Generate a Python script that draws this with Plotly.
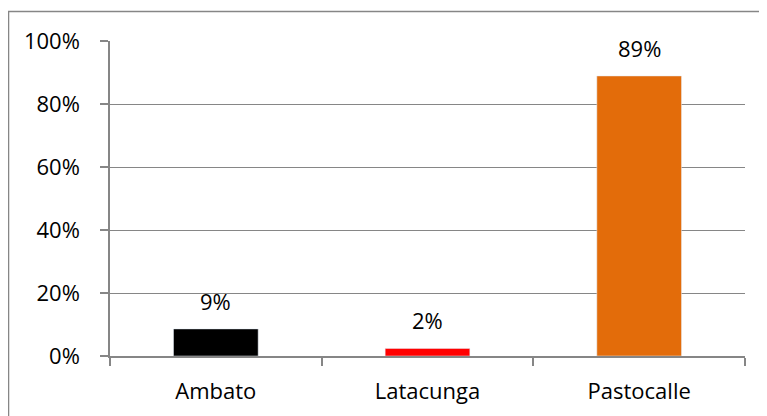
import plotly.graph_objects as go

categories = ["Ambato", "Latacunga", "Pastocalle"]
shares = [0.086, 0.024, 0.889]
bar_colors = ["#000000", "#ff0000", "#e36c0a"]
y_ticks = [0, 0.2, 0.4, 0.6, 0.8, 1.0]
y_tick_labels = ["0%", "20%", "40%", "60%", "80%", "100%"]

grid_col = "#868686"
font = dict(family="Open Sans, Liberation Sans, sans-serif", size=22, color="#000000")

fig = go.Figure(go.Bar(
    x=categories, y=shares, marker_color=bar_colors, width=0.4,
    hoverinfo="skip",
))

for c, v in zip(categories, shares):
    fig.add_annotation(x=c, y=v, text=f"{v:.0%}", showarrow=False,
                       yanchor="bottom", yshift=11, font=font)

# outer chart border (the picture is cropped on the right and bottom)
fig.add_shape(type="rect", xref="paper", yref="paper",
              x0=-0.1598, x1=1.2, y0=-0.5, y1=1.0937,
              line=dict(color=grid_col, width=1.5), layer="below")

# the page body adds an 8px offset, so margins are shifted by it
fig.update_layout(
    width=767, height=416,
    margin=dict(l=102, r=30, t=33, b=68),
    paper_bgcolor="white", plot_bgcolor="white",
    font=font, showlegend=False, bargap=0.6,
)
fig.update_xaxes(
    showline=True, linecolor=grid_col, linewidth=1.5,
    ticks="outside", ticklen=8, tickcolor=grid_col, tickwidth=1.5,
    tickson="boundaries", showgrid=False, ticklabelstandoff=15,
)
fig.update_yaxes(
    range=[0, 1.0], tickvals=y_ticks, ticktext=y_tick_labels,
    showgrid=True, gridcolor=grid_col, gridwidth=1.2,
    showline=True, linecolor=grid_col, linewidth=1.5,
    ticks="outside", ticklen=8, tickcolor=grid_col, tickwidth=1.5,
    zeroline=False, ticklabelstandoff=16,
)

fig.write_html("out.html")
